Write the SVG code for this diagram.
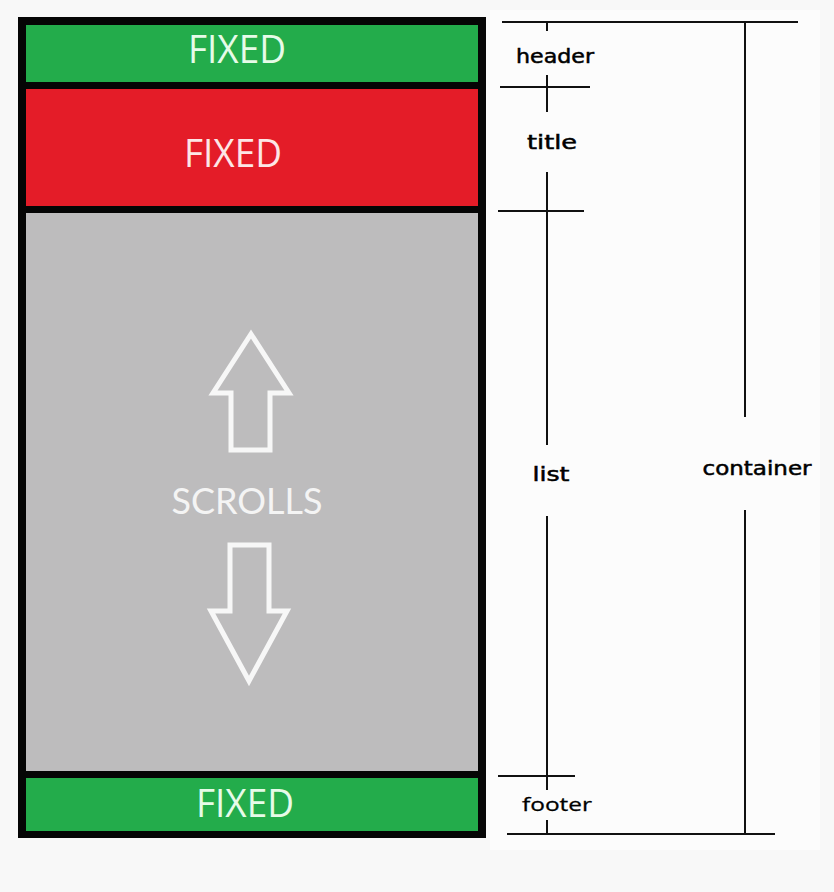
<svg xmlns="http://www.w3.org/2000/svg" width="834" height="892" viewBox="0 0 834 892">
<style>
.fixed{font-family:"Open Sans","DejaVu Sans",sans-serif;font-size:38px;text-anchor:middle}
.lbl{font-family:"DejaVu Sans","Noto Sans",sans-serif;font-size:19px;fill:#000;stroke:#000;stroke-width:0.5;text-anchor:middle}
.ln{stroke:#111;stroke-width:2;fill:none}
.arw{fill:#bdbcbd;stroke:#f7f7f7;stroke-width:5;stroke-linejoin:miter}
</style>
<rect x="0" y="0" width="834" height="892" fill="#f8f8f8"/>
<rect x="490" y="10" width="330" height="840" fill="#fcfcfc"/>
<g id="container">
<rect x="18" y="17" width="468" height="821" fill="#050505"/>
</g>
<g id="header">
<rect x="26" y="25" width="452" height="57" fill="#23ac4b"/>
<text class="fixed" x="237" y="63" fill="#e6fbe8" textLength="98" lengthAdjust="spacingAndGlyphs">FIXED</text>
</g>
<g id="title">
<rect x="26" y="89" width="452" height="117" fill="#e41c28"/>
<text class="fixed" x="233" y="167" fill="#fde6e6" textLength="98" lengthAdjust="spacingAndGlyphs">FIXED</text>
</g>
<g id="list">
<rect x="26" y="213" width="452" height="558" fill="#bdbcbd"/>
<polygon class="arw" points="251,334 289,393 270,393 270,450 231,450 231,393 213,393"/>
<text x="247" y="514" font-family="Lato,'Open Sans',sans-serif" font-size="37" fill="#f4f4f4" text-anchor="middle" textLength="151" lengthAdjust="spacingAndGlyphs">SCROLLS</text>
<polygon class="arw" points="230,545 269,545 269,611 287,611 249,681 211,611 230,611"/>
</g>
<g id="footer">
<rect x="26" y="778" width="452" height="53" fill="#23ac4b"/>
<text class="fixed" x="245" y="817" fill="#e6fbe8" textLength="98" lengthAdjust="spacingAndGlyphs">FIXED</text>
</g>
<g id="connectors">
<line class="ln" x1="502" y1="22" x2="798" y2="22"/>
<line class="ln" x1="547" y1="22" x2="547" y2="31"/>
<line class="ln" x1="547" y1="75" x2="547" y2="112"/>
<line class="ln" x1="500" y1="87" x2="590" y2="87"/>
<line class="ln" x1="547" y1="172" x2="547" y2="445"/>
<line class="ln" x1="498" y1="211" x2="584" y2="211"/>
<line class="ln" x1="547" y1="516" x2="547" y2="790"/>
<line class="ln" x1="498" y1="776" x2="575" y2="776"/>
<line class="ln" x1="547" y1="820" x2="547" y2="834"/>
<line class="ln" x1="507" y1="834" x2="775" y2="834"/>
<line class="ln" x1="745" y1="22" x2="745" y2="417"/>
<line class="ln" x1="745" y1="510" x2="745" y2="834"/>
</g>
<g id="labels">
<text class="lbl" x="555" y="63" textLength="78" lengthAdjust="spacingAndGlyphs">header</text>
<text class="lbl" x="552" y="149" textLength="50" lengthAdjust="spacingAndGlyphs">title</text>
<text class="lbl" x="551" y="481" textLength="37" lengthAdjust="spacingAndGlyphs">list</text>
<text class="lbl" x="757" y="475" textLength="109" lengthAdjust="spacingAndGlyphs">container</text>
<text class="lbl" x="557" y="811" textLength="70" lengthAdjust="spacingAndGlyphs" style="font-family:'Open Sans','DejaVu Sans',sans-serif;stroke-width:0.3">footer</text>
</g>
</svg>
